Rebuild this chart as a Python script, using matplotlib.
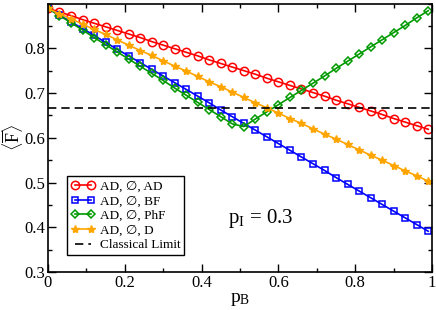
import matplotlib
matplotlib.use('Agg')
import matplotlib.pyplot as plt
from matplotlib.ticker import MultipleLocator

plt.rcParams['font.family'] = ['Liberation Serif', 'DejaVu Sans']
plt.rcParams['mathtext.fontset'] = 'custom'
plt.rcParams['mathtext.rm'] = 'Liberation Serif'
plt.rcParams['mathtext.it'] = 'Liberation Serif:italic'

# p_B sampled every 0.03
p_b = [0.00, 0.03, 0.06, 0.09, 0.12, 0.15, 0.18, 0.21, 0.24, 0.27, 0.30, 0.33,
       0.36, 0.39, 0.42, 0.45, 0.48, 0.51, 0.54, 0.57, 0.60, 0.63, 0.66, 0.69,
       0.72, 0.75, 0.78, 0.81, 0.84, 0.87, 0.90, 0.93, 0.96, 0.99]

f_ad = [0.889, 0.881, 0.873, 0.864, 0.856, 0.848, 0.840, 0.832, 0.824, 0.815,
        0.807, 0.799, 0.791, 0.783, 0.774, 0.766, 0.758, 0.750, 0.742, 0.733,
        0.725, 0.717, 0.709, 0.701, 0.693, 0.684, 0.676, 0.668, 0.660, 0.652,
        0.643, 0.635, 0.627, 0.619]
f_bf = [0.889, 0.874, 0.859, 0.844, 0.829, 0.813, 0.798, 0.783, 0.768, 0.753,
        0.738, 0.723, 0.708, 0.693, 0.678, 0.662, 0.647, 0.632, 0.617, 0.602,
        0.587, 0.572, 0.557, 0.542, 0.527, 0.511, 0.496, 0.481, 0.466, 0.451,
        0.436, 0.421, 0.406, 0.391]
f_phf = [0.889, 0.873, 0.857, 0.841, 0.824, 0.808, 0.792, 0.776, 0.760, 0.744,
         0.728, 0.711, 0.695, 0.679, 0.663, 0.647, 0.631, 0.625, 0.642, 0.658,
         0.674, 0.690, 0.706, 0.722, 0.738, 0.755, 0.771, 0.787, 0.803, 0.819,
         0.835, 0.851, 0.868, 0.884]
f_d = [0.889, 0.877, 0.866, 0.854, 0.842, 0.831, 0.819, 0.807, 0.795, 0.784,
       0.772, 0.760, 0.749, 0.737, 0.725, 0.714, 0.702, 0.690, 0.678, 0.667,
       0.655, 0.643, 0.632, 0.620, 0.608, 0.597, 0.585, 0.573, 0.561, 0.550,
       0.538, 0.526, 0.515, 0.503]
classical_limit = 2 / 3

fig = plt.figure(figsize=(4.36, 3.1), dpi=100)
ax = fig.add_axes([0.110, 0.1226, 0.881, 0.866])

ax.plot(p_b, f_ad, color='#ff0000', marker='o', markersize=6, mfc='none',
        mew=1.1, lw=1.2, label='AD, \u2205, AD')
ax.plot(p_b, f_bf, color='#0000ff', marker='s', markersize=5, mfc='none',
        mew=1.1, lw=1.2, label='AD, \u2205, BF')
ax.plot(p_b, f_phf, color='#009a00', marker='D', markersize=4.5, mfc='none',
        mew=1.1, lw=1.2, label='AD, \u2205, PhF')
ax.plot(p_b, f_d, color='#ffa500', marker='*', markersize=6,
        lw=1.2, label='AD, \u2205, D')
ax.axhline(classical_limit, color='black', ls=(0, (5, 3)), lw=1.2,
           label='Classical Limit')

ax.set_xlim(0, 1)
ax.set_ylim(0.3, 0.9)
ax.set_xticks([0, 0.2, 0.4, 0.6, 0.8, 1.0])
ax.set_xticklabels(['0', '0.2', '0.4', '0.6', '0.8', '1'])
ax.set_yticks([0.3, 0.4, 0.5, 0.6, 0.7, 0.8])
ax.xaxis.set_minor_locator(MultipleLocator(0.1))
ax.yaxis.set_minor_locator(MultipleLocator(0.05))
ax.tick_params(which='both', direction='in', top=True, right=True,
               labelsize=12, width=1)
ax.tick_params(which='major', length=6, pad=2)
ax.tick_params(which='minor', length=3)
for s in ax.spines.values():
    s.set_linewidth(1.2)

ax.set_xlabel(r'$\mathrm{p_B}$', fontsize=14, labelpad=0)
ax.set_ylabel(r'$\langle\overline{\mathrm{F}}\rangle$', fontsize=13)
ax.yaxis.set_label_coords(-0.06, 0.5)
ax.text(0.469, 0.41, r'$\mathrm{p_I}$ = 0.3', fontsize=15)

leg = ax.legend(loc='lower left', bbox_to_anchor=(0.049, 0.063),
                borderaxespad=0, fontsize=9.5, fancybox=False, framealpha=1,
                edgecolor='black', numpoints=2, handlelength=1.8,
                handletextpad=0.4, labelspacing=0.18, borderpad=0.3)
leg.get_frame().set_linewidth(1.0)

fig.savefig('out.png', dpi=100)
